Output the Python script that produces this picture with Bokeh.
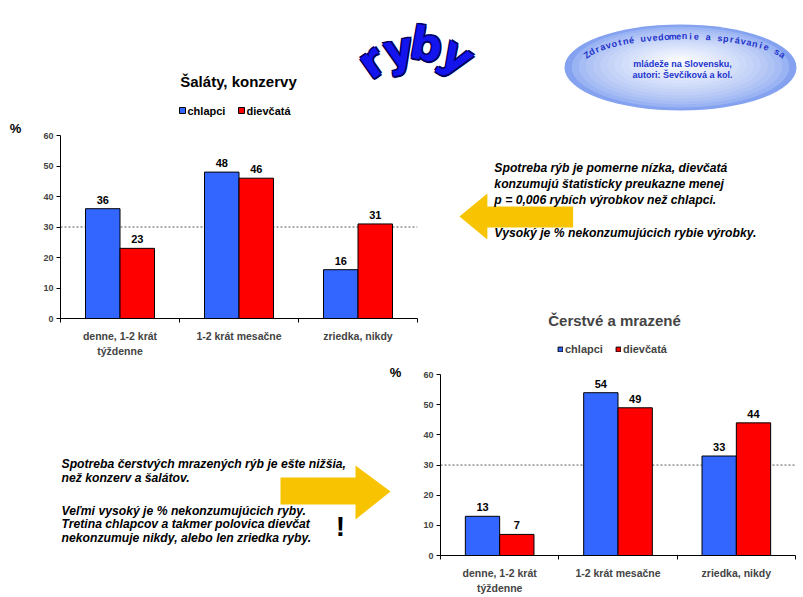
import numpy as np
from bokeh.plotting import figure
from bokeh.layouts import column, row
from bokeh.models import Range1d, FixedTicker, Span, Label, Legend, LegendItem, ColumnDataSource
from bokeh.transform import dodge
from bokeh.core.properties import value
from bokeh.embed import file_html
from bokeh.resources import INLINE

# ---------------- data ----------------
categories = ["denne, 1-2 krát\ntýždenne", "1-2 krát mesačne", "zriedka, nikdy"]
series_names = ["chlapci", "dievčatá"]
konzervy_chlapci = [36, 48, 16]
konzervy_dievcata = [23, 46, 31]
cerstve_chlapci = [13, 54, 33]
cerstve_dievcata = [7, 49, 44]
y_ticks = [0, 10, 20, 30, 40, 50, 60]
reference_level = 30
chart_titles = ["Šaláty, konzervy", "Čerstvé a mrazené"]
y_unit = "%"
slide_title = "ryby"
badge_arc_text = "Zdravotné uvedomenie a správanie sa"
badge_lines = ["mládeže na Slovensku,", "autori: Ševčíková a kol."]
note_right = ["Spotreba rýb je pomerne nízka, dievčatá",
              "konzumujú štatisticky preukazne menej",
              "p = 0,006 rybích výrobkov než chlapci.",
              "Vysoký je % nekonzumujúcich rybie výrobky."]
note_left = ["Spotreba čerstvých mrazených rýb je ešte nižšia,",
             "než konzerv a šalátov.",
             "Veľmi vysoký je % nekonzumujúcich ryby.",
             "Tretina chlapcov a takmer polovica dievčat",
             "nekonzumuje nikdy, alebo len zriedka ryby."]
exclamation = "!"

# ---------------- style / layout ----------------
FONT = "Liberation Sans"
BLUE = "#3366ff"
RED = "#ff0000"
SERIES_COLORS = [BLUE, RED]
GOLD = "#f8c300"
BADGE_BLUE = "#2233cc"
W, H = 803, 597
TOP_H = 122
STRIP_W = 30
LEFT_W = 390          # left column (x 30..420)
RIGHT_W = W - STRIP_W - LEFT_W
BAR_W = 0.29
BAR_OFF = 0.145
PX_PER_UNIT = 3.05    # vertical scale of both charts
NOTE_SIZE = 12.2


def deco(x0, x1, y0, y1, bl=0, br=0):
    p = figure(width=x1 - x0 + bl + br, height=y1 - y0, x_range=Range1d(x0, x1), y_range=Range1d(y1, y0),
               x_axis_type=None, y_axis_type=None, min_border=0,
               min_border_left=bl, min_border_right=br,
               output_backend="svg", toolbar_location=None)
    p.outline_line_color = None
    p.background_fill_color = "white"
    p.border_fill_color = "white"
    return p


def txt(p, xs, ys, texts, size, color="black", style="bold", align="left", baseline="middle",
        angle=0.0, font=FONT):
    p.text(x=xs, y=ys, text=texts, text_font=value(font), text_font_size=f"{size}px",
           text_font_style=style, text_color=color, text_align=align, text_baseline=baseline,
           angle=angle)


def bar_chart(boys, girls, width, height, left, right, top, bottom, frame_extra_top=0):
    n = len(categories)
    centers = [i + 0.5 for i in range(n)]
    y_end = y_ticks[-1] + frame_extra_top / PX_PER_UNIT
    p = figure(width=width, height=height, x_range=Range1d(0, n), y_range=Range1d(y_ticks[0], y_end),
               output_backend="svg", toolbar_location=None,
               min_border_left=left, min_border_right=right, min_border_top=top, min_border_bottom=bottom)
    p.outline_line_color = None
    p.xgrid.visible = False
    p.ygrid.visible = False
    src = ColumnDataSource(dict(x=centers, boys=boys, girls=girls,
                                boys_lbl=[str(v) for v in boys], girls_lbl=[str(v) for v in girls]))
    p.add_layout(Span(location=reference_level, dimension="width", line_color="#555555",
                      line_dash="2 2", line_width=1, level="underlay"))
    rb = p.vbar(x=dodge("x", -BAR_OFF), top="boys", width=BAR_W, fill_color=SERIES_COLORS[0],
                line_color="black", line_width=1, source=src)
    rg = p.vbar(x=dodge("x", BAR_OFF), top="girls", width=BAR_W, fill_color=SERIES_COLORS[1],
                line_color="black", line_width=1, source=src)
    for off, col in ((-BAR_OFF, "boys"), (BAR_OFF, "girls")):
        p.text(x=dodge("x", off), y=col, text=col + "_lbl", source=src, text_align="center",
               text_baseline="bottom", y_offset=-5, text_font=value(FONT), text_font_size="11px",
               text_font_style="bold", text_color="black")
    xa = p.xaxis[0]
    xa.ticker = FixedTicker(ticks=centers, minor_ticks=list(range(n + 1)))
    xa.major_label_overrides = {c: lab for c, lab in zip(centers, categories)}
    xa.major_tick_out = 0
    xa.major_tick_in = 0
    xa.minor_tick_out = 4
    xa.minor_tick_in = 0
    xa.major_label_standoff = 7
    xa.major_label_text_font = FONT
    xa.major_label_text_font_size = "10.5px"
    xa.major_label_text_font_style = "bold"
    xa.major_label_text_line_height = 1.3
    xa.axis_line_color = "black"
    ya = p.yaxis[0]
    ya.ticker = FixedTicker(ticks=y_ticks)
    ya.bounds = (y_ticks[0], y_ticks[-1])
    ya.major_tick_out = 4
    ya.major_tick_in = 0
    ya.minor_tick_out = 0
    ya.major_label_standoff = 3
    ya.major_label_text_font = FONT
    ya.major_label_text_font_size = "9px"
    ya.major_label_text_font_style = "bold"
    ya.axis_line_color = "black"
    return p, rb, rg


# ---------------- top band ----------------
top = deco(0, W, 0, TOP_H)
bcx, bcy, bw, bh = 680, 67, 232, 86
steps = 16
edge = np.array([132, 162, 240])
center = np.array([248, 250, 255])
for k in range(steps):
    t = k / (steps - 1)
    s = 1 - 0.92 * t
    c = edge + (center - edge) * t ** 0.6
    top.ellipse(x=[bcx], y=[bcy - 6 * t], width=bw * s, height=bh * s,
                fill_color="#%02x%02x%02x" % tuple(int(v) for v in c), line_color=None)
acx, acy, aa, ab = 684, 64, 104, 28
th = np.linspace(np.radians(164), np.radians(16), 3000)
ax_ = acx + aa * np.cos(th)
ay_ = acy - ab * np.sin(th)
sl = np.concatenate([[0], np.cumsum(np.hypot(np.diff(ax_), np.diff(ay_)))])
m = len(badge_arc_text)
idx = np.clip(np.searchsorted(sl, (np.arange(m) + 0.5) / m * sl[-1]), 0, len(th) - 1)
gx, gy = np.gradient(ax_), np.gradient(ay_)
ang = np.arctan2(-gy[idx], gx[idx])
txt(top, list(ax_[idx]), list(ay_[idx]), list(badge_arc_text), 9, color=BADGE_BLUE,
    align="center", angle=list(ang))
txt(top, [682, 682], [63, 74], badge_lines, 9, color=BADGE_BLUE, align="center")

letters = list(slide_title)
lx = [371, 398, 426, 457]
ly = [61, 49, 44, 55]
la = list(np.radians([35, 12, -10, -33]))
for dx, dy in ((-1.3, -1.3), (1.3, -1.3), (-1.3, 1.3), (1.3, 1.3), (0, 2)):
    txt(top, [x + dx for x in lx], [y + dy for y in ly], letters, 45, color="#00005a",
        align="center", angle=la, font="DejaVu Sans")
txt(top, lx, ly, letters, 45, color="#1414ee", align="center", angle=la, font="DejaVu Sans")

# chart 1 title and legend (legend keys drawn in the band above the chart)
txt(top, [238], [81], [chart_titles[0]], 15, align="center")
key_x = [182, 241]
top.scatter(x=key_x, y=[110, 110], marker="square", size=6, fill_color=SERIES_COLORS,
            line_color="black", line_width=1)
txt(top, [k + 5 for k in key_x], [110, 110], series_names, 11)

# ---------------- narrow strip for chart 1 unit ----------------
strip = deco(0, STRIP_W, TOP_H, H)
txt(strip, [15], [128], [y_unit], 13, align="center")

# ---------------- chart 1 ----------------
f1, _, _ = bar_chart(konzervy_chlapci, konzervy_dievcata, LEFT_W, 243, 30, 3, 13, 47)

# ---------------- left note with arrow (frame aligned with chart 1) ----------------
f3 = deco(60, 417, 365, H, bl=30, br=3)
f3.patch(x=[280, 355, 355, 390, 355, 355, 280], y=[477, 477, 465, 491, 519, 504, 504],
         fill_color=GOLD, line_color=None)
txt(f3, [61] * 5, [463, 477, 510, 523.5, 537], note_left, NOTE_SIZE, style="bold italic")
txt(f3, [340], [526], [exclamation], 28, align="center")
txt(f3, [395], [372], [y_unit], 13, align="center")

# ---------------- right note with arrow (frame aligned with chart 2) ----------------
f2 = deco(439, 795, TOP_H, 300, bl=19, br=8)
f2.patch(x=[458, 486, 486, 572, 572, 486, 486], y=[216, 193, 206, 206, 227, 227, 239],
         fill_color=GOLD, line_color=None)
txt(f2, [493] * 4, [167, 183, 199, 232], note_right, NOTE_SIZE, style="bold italic")

# ---------------- chart 2 ----------------
f4, rb2, rg2 = bar_chart(cerstve_chlapci, cerstve_dievcata, RIGHT_W, 297, 19, 8, 0, 39,
                         frame_extra_top=75)
f4.add_layout(Label(x=174, y=235, x_units="screen", y_units="screen", text=chart_titles[1],
                    text_font=FONT, text_font_size="15px", text_font_style="bold",
                    text_align="center", text_baseline="middle"))
items = [LegendItem(label=nm, renderers=[r]) for nm, r in zip(series_names, [rb2, rg2])]
f4.add_layout(Legend(items=items, location=(117, 200), orientation="horizontal",
                     label_text_font=FONT, label_text_font_size="11px", label_text_font_style="bold",
                     glyph_width=6, glyph_height=6, label_standoff=2, spacing=12, padding=0, margin=0,
                     label_height=8, border_line_color=None, background_fill_alpha=0))

layout = column(top, row(strip, column(f1, f3), column(f2, f4)))
open("out.html", "w").write(file_html(layout, INLINE))
